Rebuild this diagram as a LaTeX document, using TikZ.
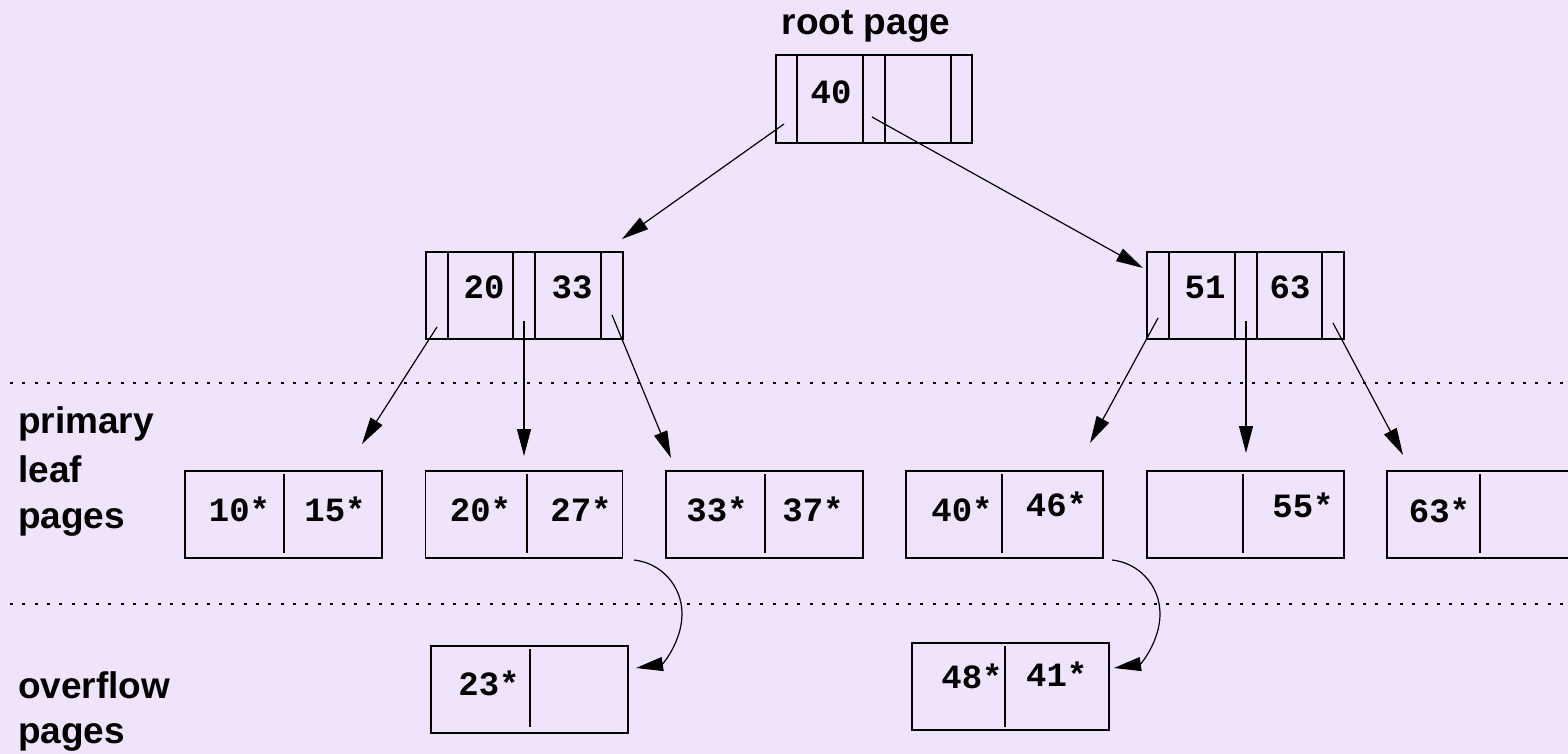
\documentclass[tikz,border=0pt]{standalone}
\usepackage{fontspec}
\setsansfont{Liberation Sans}
\setmonofont{Liberation Mono}
\usetikzlibrary{arrows.meta}
\definecolor{bgc}{RGB}{240,228,252}
\newcommand\numfont{\fontsize{34}{40}\selectfont\ttfamily\bfseries}
\newcommand\lblfont{\fontsize{37}{44}\selectfont\sffamily\bfseries}
\tikzset{
  pagebox/.style={draw, line width=1.4pt, minimum width=197pt, minimum height=87pt, inner sep=0pt},
  divline/.style={line width=1.4pt},
  num/.style={font=\numfont, anchor=base, inner sep=0pt},
  lbl/.style={font=\lblfont, anchor=base west, inner sep=0pt},
  ptr/.style={-{Triangle[length=27pt,width=14pt]}, line width=1.2pt},
  sepline/.style={line width=1.6pt, dash pattern=on 3pt off 9.3pt}
}
\begin{document}
\begin{tikzpicture}[x=1pt,y=1pt]
\useasboundingbox (0,0) rectangle (1568,-754);
\fill[bgc] (0,0) rectangle (1568,-754);

% separators
\draw[sepline] (10,-383) -- (1568,-383);
\draw[sepline] (10,-604) -- (1568,-604);

% labels
\node[font=\lblfont, anchor=base, inner sep=0pt] (rootlbl) at (866,-35) {root page};
\node[lbl] (pl1) at (18,-433) {primary};
\node[lbl] (pl2) at (18,-482) {leaf};
\node[lbl] (pl3) at (18,-528) {pages};
\node[lbl] (ol1) at (18,-698) {overflow};
\node[lbl] (ol2) at (18,-743) {pages};

% root
\node[pagebox, minimum width=196pt, minimum height=88pt] (root) at (874,-99) {};
\foreach \x in {797,863,885,951} \draw[divline] (\x,-55) -- (\x,-143);
\node[num] (k40) at (831,-104) {40};

% level 2
\node[pagebox] (nl) at (524.5,-295.5) {};
\foreach \x in {448,513,535,601} \draw[divline] (\x,-252) -- (\x,-339);
\node[num] (k20) at (484,-298) {20};
\node[num] (k33) at (572,-298) {33};

\node[pagebox] (nr) at (1245.5,-295.5) {};
\foreach \x in {1169,1235,1257,1322} \draw[divline] (\x,-252) -- (\x,-339);
\node[num] (k51) at (1205,-298) {51};
\node[num] (k63) at (1290,-298) {63};

% leaves
\node[pagebox] (L1) at (283.5,-514.5) {};
\node[pagebox] (L2) at (524,-514.5) {};
\node[pagebox] (L3) at (764.5,-514.5) {};
\node[pagebox] (L4) at (1004.5,-514.5) {};
\node[pagebox] (L5) at (1245.5,-514.5) {};
\node[pagebox] (L6) at (1485.5,-514.5) {};
\foreach \x in {284,527,765,1002,1243,1480} \draw[divline] (\x,-474) -- (\x,-553);

\node[num] (e10) at (239.5,-521) {10*};
\node[num] (e15) at (335,-521) {15*};
\node[num] (e20) at (480.5,-521) {20*};
\node[num] (e27) at (581,-521) {27*};
\node[num] (e33) at (717,-521) {33*};
\node[num] (e37) at (813,-521) {37*};
\node[num] (e40) at (962,-521) {40*};
\node[num] (e46) at (1056.5,-516) {46*};
\node[num] (e55) at (1303,-517) {55*};
\node[num] (e63) at (1439.5,-522) {63*};

% overflow
\node[pagebox] (O1) at (529.5,-689.5) {};
\draw[divline] (530,-649) -- (530,-727);
\node[num] (e23) at (489,-695.5) {23*};
\node[pagebox] (O2) at (1010.5,-686.5) {};
\draw[divline] (1005,-646) -- (1005,-727);
\node[num] (e48) at (972,-688.5) {48*};
\node[num] (e41) at (1056.7,-686.5) {41*};

% pointer coordinates
\coordinate (rp0) at (784,-124);
\coordinate (rp1) at (872,-117);
\coordinate (nlp0) at (437,-327);
\coordinate (nlp1) at (524,-321);
\coordinate (nlp2) at (612,-315);
\coordinate (nrp0) at (1158,-318);
\coordinate (nrp1) at (1246,-321);
\coordinate (nrp2) at (1333,-323);
\coordinate (t-nl) at (622,-239);
\coordinate (t-nr) at (1143,-268);
\coordinate (t-L1) at (362,-444);
\coordinate (t-L2) at (524,-456);
\coordinate (t-L3) at (671,-458);
\coordinate (t-L4) at (1090,-443);
\coordinate (t-L5) at (1246,-453);
\coordinate (t-L6) at (1403,-455);
\coordinate (c1s) at (634,-560);
\coordinate (c1e) at (636,-668);
\coordinate (c2s) at (1112,-560);
\coordinate (c2e) at (1114,-668);

\draw[ptr] (rp0) -- (t-nl);
\draw[ptr] (rp1) -- (t-nr);
\draw[ptr] (nlp0) -- (t-L1);
\draw[ptr] (nlp1) -- (t-L2);
\draw[ptr] (nlp2) -- (t-L3);
\draw[ptr] (nrp0) -- (t-L4);
\draw[ptr] (nrp1) -- (t-L5);
\draw[ptr] (nrp2) -- (t-L6);

\draw[ptr] (c1s) .. controls (661.5,-563) and (682,-586) .. (682,-614)
  .. controls (682,-641) and (663,-664) .. (c1e);
\draw[ptr] (c2s) .. controls (1139.5,-563) and (1160,-586) .. (1160,-614)
  .. controls (1160,-641) and (1141,-664) .. (c2e);
\end{tikzpicture}
\end{document}
